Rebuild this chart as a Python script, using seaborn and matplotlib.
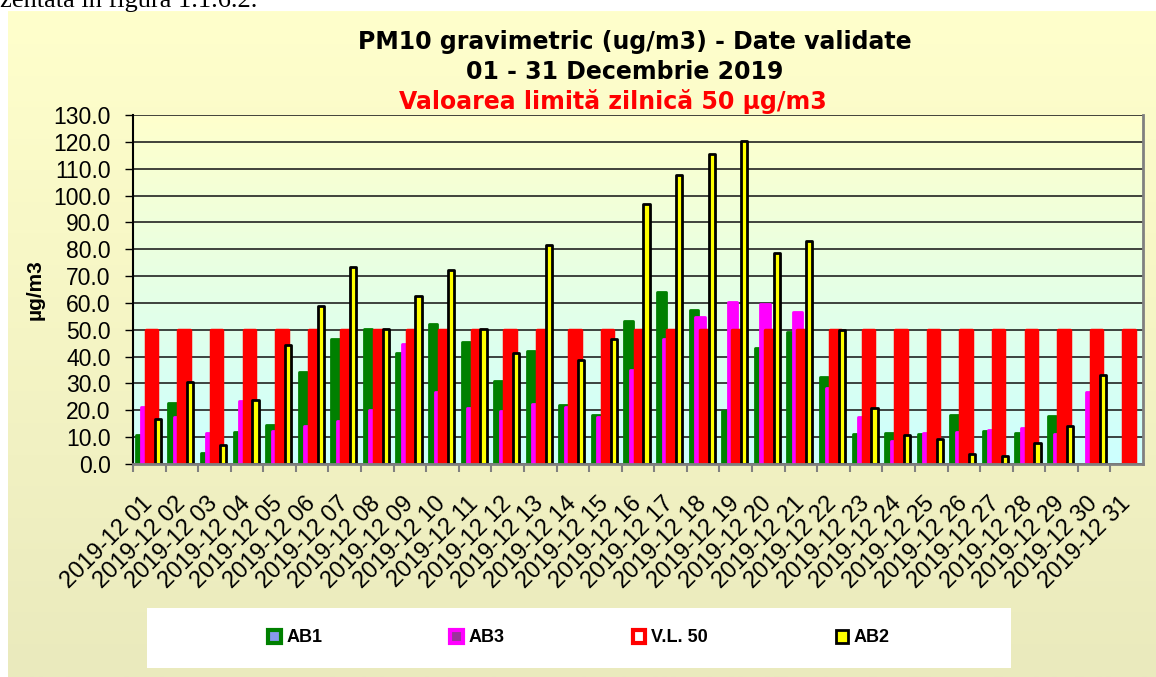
import numpy as np
import pandas as pd
import matplotlib
matplotlib.use("Agg")
import matplotlib.pyplot as plt
import seaborn as sns
from matplotlib.colors import LinearSegmentedColormap
from matplotlib.patches import Patch, Rectangle

# data
days = [f"2019-12 {d:02d}" for d in range(1, 32)]
ab1 = [10.9, 22.7, 4.1, 11.9, 14.6, 34.1, 46.6, 50.4, 41.3, 52.1,
       45.4, 31.1, 42.2, 22.1, 18.1, 53.3, 64.0, 57.4, 19.6, 43.2,
       49.1, 32.3, 11.2, 11.5, 11.2, 18.4, 12.2, 11.7, 17.7, np.nan, np.nan]
ab3 = [21.2, 17.5, 11.5, 23.3, 12.2, 14.0, 15.9, 20.0, 44.8, 27.0,
       20.8, 19.9, 22.5, 21.1, 17.5, 34.9, 46.7, 54.7, 60.5, 59.7,
       56.8, 28.3, 17.4, 8.4, 11.5, 11.9, 12.5, 13.4, 11.3, 27.0, np.nan]
vl50 = [50.0] * 31
ab2 = [16.9, 30.5, 7.2, 24.0, 44.2, 58.7, 73.3, 50.4, 62.4, 72.3,
       50.4, 41.3, 81.4, 38.8, 46.7, 96.9, 107.7, 115.4, 120.3, 78.5,
       83.1, 49.8, 20.8, 10.9, 9.4, 3.8, 2.9, 7.8, 14.0, 33.0, np.nan]

series_names = ["AB1", "AB3", "V.L. 50", "AB2"]
series_vals = [ab1, ab3, vl50, ab2]
colors = ["#008000", "#FF00FF", "#FF0000", "#FFFF00"]
edges = ["#008000", "#FF00FF", "#FF0000", "#000000"]
legend_faces = ["#8899EE", "#993399", "#FFFFFF", "#FFFF00"]
offsets = [0.215, 0.40, 0.57, 0.76]
widths = [0.26, 0.29, 0.35, 0.19]
lws = [2.0, 2.0, 2.5, 2.0]

sns.set_theme(style="white")
plt.rcParams["font.family"] = ["Liberation Sans", "DejaVu Sans"]
plt.rcParams["text.color"] = "black"
plt.rcParams["axes.labelcolor"] = "black"
plt.rcParams["xtick.color"] = "black"
plt.rcParams["ytick.color"] = "black"

fig = plt.figure(figsize=(11.56, 6.77), dpi=100)
fig.patch.set_facecolor("white")

# panel background (chart area)
bg = fig.add_axes([8 / 1156, 0, 1 - 8 / 1156, 666 / 677], zorder=-5)
bg_cmap = LinearSegmentedColormap.from_list("bg", ["#EAEABD", "#FFFFCC"])
bg.imshow(np.linspace(0, 1, 256).reshape(-1, 1), cmap=bg_cmap, aspect="auto",
          origin="lower", extent=[0, 1, 0, 1])
bg.set_axis_off()

ax = fig.add_axes([133 / 1156, 1 - 464 / 677, 1010 / 1156, 349 / 677])
ax.patch.set_alpha(0)

n = len(days)
idx = np.arange(n)
for name, vals, c, ec, off, w, lw in zip(series_names, series_vals, colors, edges,
                                          offsets, widths, lws):
    df = pd.DataFrame({"x": idx + off, "y": vals})
    sns.barplot(data=df, x="x", y="y", native_scale=True, width=w, color=c,
                saturation=1, edgecolor=ec, linewidth=lw, errorbar=None, ax=ax)

for p in ax.patches:
    p.set_joinstyle("round")

pa_cmap = LinearSegmentedColormap.from_list("pa", ["#CCFFFF", "#FFFFCC"])
ax.imshow(np.linspace(0, 1, 256).reshape(-1, 1), cmap=pa_cmap, aspect="auto",
          origin="lower", extent=[0, n, 0, 130], zorder=0)

ax.set_xlim(0, n)
ax.set_ylim(0, 130)
ax.set_yticks(np.arange(0, 131, 10))
ax.set_yticklabels([f"{v:.1f}" for v in np.arange(0, 131, 10)], fontsize=16.5)
ax.yaxis.grid(True, color="#222222", linewidth=1.2)
ax.set_axisbelow(True)
ax.tick_params(axis="y", direction="out", length=6, width=1, color="black", pad=10,
               left=True)

ax.set_xticks(idx, minor=False)
ax.set_xticklabels([])
ax.tick_params(axis="x", which="major", direction="out", length=6, width=1.5,
               color="#808080", bottom=True)
ax.set_xticks(idx + 0.5, minor=True)
ax.set_xticklabels(days, minor=True, rotation=45, ha="right",
                   rotation_mode="anchor", va="center", fontsize=17)
ax.tick_params(axis="x", which="minor", length=0, pad=26)

ax.spines["top"].set_visible(False)
ax.spines["left"].set_color("black")
ax.spines["left"].set_linewidth(1.5)
ax.spines["bottom"].set_color("#808080")
ax.spines["bottom"].set_linewidth(2)
ax.spines["right"].set_color("#808080")
ax.spines["right"].set_linewidth(2)
ax.set_xlabel("")
ax.set_ylabel("µg/m3", fontsize=15, fontweight="bold", labelpad=6)

# titles
title_kw = dict(ha="center", va="center", fontsize=17, fontweight="bold",
                family="DejaVu Sans")
fig.text(635 / 1156, 1 - 42 / 677, "PM10 gravimetric (ug/m3) - Date validate",
         color="black", **title_kw)
fig.text(625 / 1156, 1 - 72 / 677, "01 - 31 Decembrie 2019",
         color="black", **title_kw)
fig.text(613 / 1156, 1 - 102 / 677, "Valoarea limită zilnică 50 µg/m3",
         color="#FF0000", **title_kw)

# cut document text above the chart
fig.text(0, 1 - 7 / 677, "zentată în figura 1.1.6.2.", ha="left", va="baseline",
         fontsize=19, family="Liberation Serif")

# legend box
fig.patches.append(Rectangle((147 / 1156, 1 - 668 / 677), 864 / 1156, 60 / 677,
                             transform=fig.transFigure, facecolor="white",
                             edgecolor="none", zorder=-1))
handles = [Patch(facecolor=f, edgecolor=ec, linewidth=3)
           for f, ec in zip(legend_faces, edges)]
handles[3] = Patch(facecolor="#FFFF00", edgecolor="black", linewidth=2)
fig.legend(handles, series_names, loc="center", ncol=4, frameon=False,
           bbox_to_anchor=(579 / 1156, 1 - 638 / 677),
           prop={"weight": "bold", "size": 13}, handlelength=0.7,
           handleheight=0.7, handletextpad=0.3, columnspacing=7.1)

fig.savefig("out.png", dpi=100)
